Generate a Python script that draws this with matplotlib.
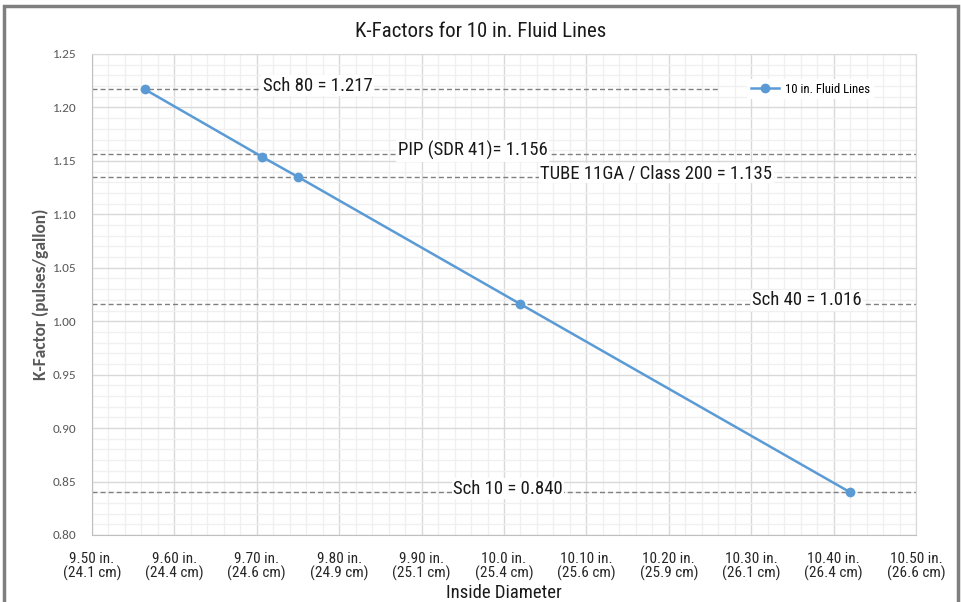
import matplotlib
matplotlib.use('Agg')
import matplotlib.pyplot as plt
from matplotlib.patches import Rectangle
from matplotlib.ticker import MultipleLocator

# Data
inside_diameter = [9.564, 9.706, 9.750, 10.020, 10.420]
k_factor = [1.217, 1.154, 1.135, 1.016, 0.840]

ref_labels = ['Sch 80 = 1.217', 'PIP (SDR 41)= 1.156', 'TUBE 11GA / Class 200 = 1.135',
              'Sch 40 = 1.016', 'Sch 10 = 0.840']
ref_values = [1.217, 1.156, 1.135, 1.016, 0.840]

x_ticks = [9.50, 9.60, 9.70, 9.80, 9.90, 10.0, 10.10, 10.20, 10.30, 10.40, 10.50]
x_tick_labels = ['9.50 in.\n(24.1 cm)', '9.60 in.\n(24.4 cm)', '9.70 in.\n(24.6 cm)',
                 '9.80 in.\n(24.9 cm)', '9.90 in.\n(25.1 cm)', '10.0 in.\n(25.4 cm)',
                 '10.10 in.\n(25.6 cm)', '10.20 in.\n(25.9 cm)', '10.30 in.\n(26.1 cm)',
                 '10.40 in.\n(26.4 cm)', '10.50 in.\n(26.6 cm)']

narrow = ['Roboto Condensed', 'Archivo Narrow', 'IBM Plex Sans Condensed', 'DejaVu Sans']
calib = ['Carlito', 'Lato', 'DejaVu Sans']

fig = plt.figure(figsize=(9.62, 6.02), dpi=100)
ax = fig.add_axes([0.0956, 0.1113, 0.8566, 0.799])

# grey outer frame of the picture
fig.patches.append(Rectangle((0.0042, -0.05), 0.9916, 1.04, transform=fig.transFigure,
                             fill=False, edgecolor='#7f7f7f', linewidth=2.5))

ax.set_xlim(9.50, 10.50)
ax.set_ylim(0.80, 1.25)
ax.xaxis.set_major_locator(MultipleLocator(0.10))
ax.xaxis.set_minor_locator(MultipleLocator(0.02))
ax.yaxis.set_major_locator(MultipleLocator(0.05))
ax.yaxis.set_minor_locator(MultipleLocator(0.01))
ax.grid(True, which='major', color='#d9d9d9', linewidth=1.0)
ax.grid(True, which='minor', color='#f0f0f0', linewidth=1.0)
ax.set_axisbelow(True)
for s in ax.spines.values():
    s.set_color('#d9d9d9')
ax.spines['left'].set_color('#bfbfbf')
ax.spines['bottom'].set_color('#bfbfbf')

ax.set_xticks(x_ticks)
ax.set_xticklabels(x_tick_labels, fontsize=11, family=narrow, color='#262626', linespacing=1.0)
ax.set_yticks([0.80, 0.85, 0.90, 0.95, 1.00, 1.05, 1.10, 1.15, 1.20, 1.25])
ax.set_yticklabels(['%.2f' % v for v in ax.get_yticks()], fontsize=9.5, family=calib, color='#595959')
ax.tick_params(which='both', length=0)
ax.tick_params(axis='x', pad=12)
ax.tick_params(axis='y', pad=11)

# reference lines with labels sitting on them
label_x = [9.707, 9.871, 10.044, 10.301, 9.938]
for i, (lab, val) in enumerate(zip(ref_labels, ref_values)):
    xmax = 0.76 if i == 0 else 1.0
    ax.axhline(val, xmin=0, xmax=xmax, color='#808080', linestyle=(0, (3.6, 2.2)), linewidth=1.0, zorder=1)
    ax.text(label_x[i], val + 0.0035, lab, fontsize=13.5, family=narrow, color='#1a1a1a',
            va='center', ha='left', zorder=2,
            bbox=dict(facecolor='white', edgecolor='none', pad=1.0))

ax.plot(inside_diameter, k_factor, marker='o', linestyle='-', color='#5b9bd5',
        linewidth=1.8, markersize=6, label='10 in. Fluid Lines', zorder=3)

leg = ax.legend(loc='center', bbox_to_anchor=(0.872, 0.927), frameon=True, fancybox=False,
                edgecolor='none', framealpha=1.0, handlelength=2.2, handletextpad=0.5,
                borderpad=0.3, prop={'family': narrow, 'size': 9.2})

fig.text(0.5, 0.947, 'K-Factors for 10 in. Fluid Lines', ha='center', va='center',
         fontsize=15, family=narrow, color='#1a1a1a')
ax.set_xlabel('Inside Diameter', fontsize=13.5, family=narrow, color='#1a1a1a', labelpad=2)
ax.set_ylabel('K-Factor (pulses/gallon)', fontsize=12.5, family=calib, fontweight='bold',
              color='#595959', labelpad=3)

fig.savefig('out.png', dpi=100)
